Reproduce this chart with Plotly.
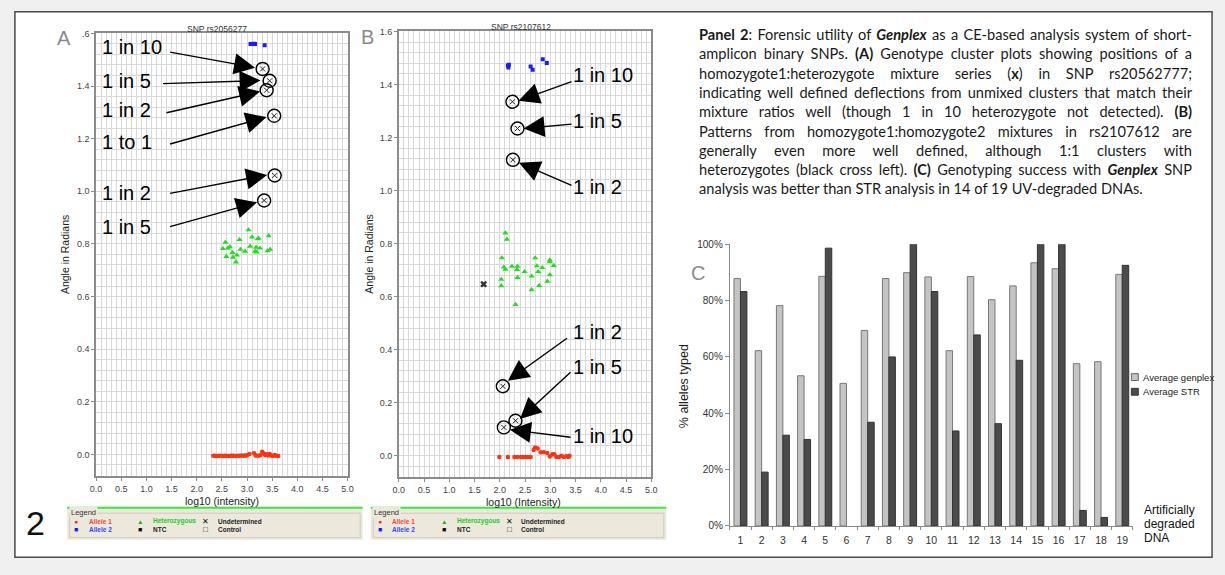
import json
import plotly.graph_objects as go

W, H = 1225, 575

# ---------------- Panel A : SNP rs2056277 ----------------
a_allele1_x = [2.33, 2.36, 2.40, 2.44, 2.48, 2.52, 2.55, 2.59, 2.63, 2.67, 2.71, 2.74, 2.78, 2.82,
               2.86, 2.90, 2.94, 2.97, 3.00, 3.05, 3.14, 3.17, 3.22, 3.26, 3.30, 3.33, 3.36, 3.39,
               3.42, 3.45, 3.48, 3.52, 3.55, 3.58, 3.62]
a_allele1_y = [-0.005, -0.005, -0.006, -0.005, -0.005, -0.006, -0.005, -0.005, -0.006, -0.005,
               -0.005, -0.005, -0.006, -0.005, -0.005, -0.004, -0.005, -0.004, -0.003, 0.002,
               0.004, -0.004, -0.005, -0.003, 0.010, 0.003, -0.002, 0.001, -0.004, 0.002,
               -0.004, -0.005, -0.002, -0.005, -0.006]
a_allele2_x = [3.07, 3.10, 3.13, 3.16, 3.35]
a_allele2_y = [1.560, 1.560, 1.561, 1.560, 1.555]
a_het_x = [3.03, 2.57, 2.85, 3.10, 3.21, 3.23, 3.43, 2.52, 2.62, 2.66, 2.87, 2.96, 3.06, 3.18,
           3.26, 3.16, 3.19, 3.41, 3.46, 2.71, 2.59, 2.80, 2.72, 2.78]
a_het_y = [0.853, 0.806, 0.816, 0.826, 0.819, 0.821, 0.831, 0.782, 0.784, 0.789, 0.779, 0.772,
           0.791, 0.787, 0.784, 0.772, 0.769, 0.774, 0.779, 0.767, 0.752, 0.757, 0.749, 0.731]
a_mix_x = [3.31, 3.45, 3.39, 3.54, 3.55, 3.34]
a_mix_y = [1.465, 1.420, 1.384, 1.287, 1.060, 0.965]
a_mix_labels = ["1 in 10", "1 in 5", "1 in 2", "1 to 1", "1 in 2", "1 in 5"]

# ---------------- Panel B : SNP rs2107612 ----------------
b_allele1_x = [1.99, 2.16, 2.29, 2.35, 2.42, 2.46, 2.50, 2.54, 2.58, 2.61, 2.67, 2.70, 2.75,
               2.81, 2.87, 2.94, 2.99, 3.04, 3.08, 3.12, 3.17, 3.22, 3.27, 3.32, 3.36, 3.38]
b_allele1_y = [-0.005, -0.005, -0.005, -0.005, -0.005, -0.005, -0.005, -0.005, -0.005, -0.005,
               0.022, 0.031, 0.027, 0.013, 0.013, 0.010, -0.003, 0.006, 0.006, -0.005, -0.005,
               0.000, -0.005, -0.002, -0.005, 0.000]
b_allele2_x = [2.16, 2.18, 2.17, 2.61, 2.65, 2.85, 2.93]
b_allele2_y = [1.472, 1.474, 1.464, 1.468, 1.456, 1.495, 1.481]
b_het_x = [2.11, 2.14, 2.04, 2.70, 2.08, 2.11, 2.24, 2.35, 2.34, 2.49, 2.73, 2.76, 2.84, 2.99,
           2.99, 3.07, 2.03, 2.35, 2.63, 2.99, 2.94, 2.78, 2.03, 2.63, 2.31]
b_het_y = [0.840, 0.816, 0.746, 0.746, 0.711, 0.703, 0.714, 0.714, 0.702, 0.694, 0.716, 0.694,
           0.709, 0.738, 0.731, 0.717, 0.665, 0.672, 0.677, 0.682, 0.658, 0.642, 0.641, 0.626,
           0.570]
b_undet_x = [1.68]
b_undet_y = [0.647]
b_mix_x = [2.25, 2.35, 2.26, 2.06, 2.31, 2.08]
b_mix_y = [1.335, 1.234, 1.116, 0.262, 0.132, 0.107]
b_mix_labels = ["1 in 10", "1 in 5", "1 in 2", "1 in 2", "1 in 5", "1 in 10"]

# ---------------- Panel C : genotyping success ----------------
samples = [str(i) for i in range(1, 20)]
genplex_pct = [87.8, 62.2, 78.2, 53.3, 88.6, 50.6, 69.4, 87.8, 89.9, 88.4, 62.2, 88.5, 80.3,
               85.2, 93.4, 91.3, 57.6, 58.3, 89.3]
str_pct = [83.2, 19.1, 32.2, 30.7, 98.6, 0.0, 36.8, 60.0, 100.0, 83.2, 33.7, 67.8, 36.3,
           58.8, 100.0, 100.0, 5.5, 3.0, 92.5]
y_ticks_c = [0, 20, 40, 60, 80, 100]

# colours
RED, BLUE, GREEN = "#ff3311", "#1a1aff", "#22dd22"
ARIAL = "Liberation Sans"


def px(x):
    return x / W


def py(y):
    return 1 - y / H


fig = go.Figure()


def cluster_traces(xa, ya, a1x, a1y, a2x, a2y, hx, hy, mx, my):
    fig.add_trace(go.Scatter(x=a1x, y=a1y, mode="markers", xaxis=xa, yaxis=ya,
                             marker=dict(symbol="circle", size=4.5, color=RED)))
    fig.add_trace(go.Scatter(x=a2x, y=a2y, mode="markers", xaxis=xa, yaxis=ya,
                             marker=dict(symbol="square", size=4, color=BLUE)))
    fig.add_trace(go.Scatter(x=hx, y=hy, mode="markers", xaxis=xa, yaxis=ya,
                             marker=dict(symbol="triangle-up", size=5.5, color=GREEN)))
    fig.add_trace(go.Scatter(x=mx, y=my, mode="markers", xaxis=xa, yaxis=ya,
                             marker=dict(symbol="circle-open", size=13, color="black",
                                         line=dict(color="black", width=1.4))))
    fig.add_trace(go.Scatter(x=mx, y=my, mode="markers", xaxis=xa, yaxis=ya,
                             marker=dict(symbol="x-thin-open", size=5, color="#222",
                                         line=dict(color="#222", width=1))))


cluster_traces("x", "y", a_allele1_x, a_allele1_y, a_allele2_x, a_allele2_y,
               a_het_x, a_het_y, a_mix_x, a_mix_y)
cluster_traces("x2", "y2", b_allele1_x, b_allele1_y, b_allele2_x, b_allele2_y,
               b_het_x, b_het_y, b_mix_x, b_mix_y)
fig.add_trace(go.Scatter(x=b_undet_x, y=b_undet_y, mode="markers", xaxis="x2", yaxis="y2",
                         marker=dict(symbol="x", size=6, color="#333")))

fig.add_trace(go.Bar(x=samples, y=genplex_pct, xaxis="x3", yaxis="y3", name="Average genplex",
                     marker=dict(color="#c4c4c4", line=dict(color="#777", width=1))))
# bars with no height get no outline
str_outline = [1 if v > 0 else 0 for v in str_pct]
fig.add_trace(go.Bar(x=samples, y=str_pct, xaxis="x3", yaxis="y3", name="Average STR",
                     marker=dict(color="#4b4b4b", line=dict(color="#333", width=str_outline))))

# ---------------- axes ----------------
grid = "#d9d9d9"
frame = "#8c8c8c"
y_vals = [0, 0.2, 0.4, 0.6, 0.8, 1.0, 1.2, 1.4, 1.6]
y_text_a = ["0.0", "0.2", "0.4", "0.6", "0.8", "1.0", "1.2", "1.4", ".6"]
y_text_b = ["0.0", "0.2", "0.4", "0.6", "0.8", "1.0", "1.2", "1.4", "1.6"]


def scatter_xaxis(dom):
    return dict(domain=dom, range=[0, 5], tick0=0, dtick=0.5, tickformat=".1f",
                showgrid=True, gridcolor=grid, zeroline=False,
                minor=dict(dtick=0.1, showgrid=True, gridcolor=grid, ticks=""),
                showline=True, linecolor=frame, linewidth=1.5, mirror=True,
                ticks="outside", ticklen=3, tickcolor=frame,
                tickfont=dict(size=9, color="#444", family=ARIAL))


def scatter_yaxis(dom, rng, anchor, ticktext):
    return dict(domain=dom, range=rng, anchor=anchor, tickvals=y_vals, ticktext=ticktext,
                showgrid=True, gridcolor=grid, zeroline=False,
                minor=dict(tick0=0, dtick=0.04, showgrid=True, gridcolor=grid, ticks=""),
                showline=True, linecolor=frame, linewidth=1.5, mirror=True,
                ticks="outside", ticklen=3, tickcolor=frame,
                tickfont=dict(size=9, color="#444", family=ARIAL))


layout = dict(
    width=W, height=H, margin=dict(l=0, r=0, t=0, b=0),
    paper_bgcolor="#eff0ef", plot_bgcolor="white", showlegend=False,
    barmode="group", bargap=0.39, bargroupgap=0.0,
    font=dict(family=ARIAL, color="#222"),
    xaxis=dict(scatter_xaxis([px(91), px(345)]), anchor="y"),
    yaxis=scatter_yaxis([py(480), py(28)], [-0.082, 1.6], "x", y_text_a),
    xaxis2=dict(scatter_xaxis([px(396.7), px(651.7)]), anchor="y2"),
    yaxis2=scatter_yaxis([py(481), py(26)], [-0.080, 1.6], "x2", y_text_b),
    xaxis3=dict(domain=[px(731), px(1138)], anchor="y3", type="category",
                showline=True, linecolor="#8a8a8a", linewidth=1, ticks="outside",
                tickson="boundaries", ticklen=3, tickcolor="#8a8a8a", ticklabelstandoff=4,
                tickfont=dict(size=10.5, color="#333", family=ARIAL)),
    yaxis3=dict(domain=[py(531), py(243.3)], anchor="x3", range=[0, 100],
                tickvals=y_ticks_c, ticktext=[f"{v}%" for v in y_ticks_c],
                showgrid=False, zeroline=False, showline=True, linecolor="#8a8a8a",
                linewidth=1, ticks="outside", ticklen=4, tickcolor="#8a8a8a",
                tickfont=dict(size=10, color="#333", family=ARIAL)),
)
fig.update_layout(**layout)

# ---------------- shapes ----------------
shapes = [
    dict(type="rect", xref="paper", yref="paper", x0=px(9), x1=px(1218), y0=py(563), y1=py(6),
         fillcolor="white", line=dict(color="#4a4a4a", width=1.5), layer="below"),
]
for x0 in (61.7, 368.3):
    shapes.append(dict(type="rect", xref="paper", yref="paper", x0=px(x0), x1=px(x0 + 298.5),
                       y0=py(545), y1=py(512), fillcolor="#ece9dc", line=dict(width=0),
                       layer="below"))
    shapes.append(dict(type="rect", xref="paper", yref="paper", x0=px(x0 + 2.5), x1=px(x0 + 296),
                       y0=py(543), y1=py(518), fillcolor="rgba(0,0,0,0)",
                       line=dict(color="#cfcbbd", width=1), layer="below"))
    shapes.append(dict(type="line", xref="paper", yref="paper", x0=px(x0), x1=px(x0 + 298.5),
                       y0=py(512.5), y1=py(512.5), line=dict(color="#33ee33", width=2)))
# panel C legend swatches
shapes.append(dict(type="rect", xref="paper", yref="paper", x0=px(1136.5), x1=px(1143.5),
                   y0=py(382.5), y1=py(375.5), fillcolor="#c4c4c4", line=dict(color="#666", width=1)))
shapes.append(dict(type="rect", xref="paper", yref="paper", x0=px(1136.5), x1=px(1143.5),
                   y0=py(397.5), y1=py(390.5), fillcolor="#4b4b4b", line=dict(color="#333", width=1)))
fig.update_layout(shapes=shapes)

# ---------------- annotations ----------------
ann = []


def text(x, y, s, size, color="#222", family=ARIAL, xanchor="center", yanchor="middle",
         angle=0, bg=None, align="center"):
    d = dict(xref="paper", yref="paper", x=px(x), y=py(y), text=s, showarrow=False,
             xanchor=xanchor, yanchor=yanchor, textangle=angle, align=align,
             font=dict(size=size, color=color, family=family))
    if bg:
        d["bgcolor"] = bg
    ann.append(d)
    return len(ann) - 1


def arrow_label(xr, yr, label, lx, ly, tail, head):
    ann.append(dict(xref=xr, yref=yr, x=lx, y=ly, text=label, showarrow=False,
                    xanchor="left", yanchor="middle",
                    font=dict(size=20, color="black", family=ARIAL)))
    ann.append(dict(xref=xr, yref=yr, axref=xr, ayref=yr, x=head[0], y=head[1],
                    ax=tail[0], ay=tail[1], text="", showarrow=True, arrowhead=2,
                    arrowsize=3.0, arrowwidth=1.4, arrowcolor="black", standoff=0))


# panel A labels and arrows
a_label_y = [1.548, 1.420, 1.310, 1.188, 0.994, 0.863]
a_tails = [(1.44, 1.530), (1.30, 1.409), (1.37, 1.297), (1.44, 1.178), (1.44, 0.991), (1.44, 0.864)]
a_heads = [(3.16, 1.470), (3.27, 1.421), (3.26, 1.379), (3.39, 1.282), (3.40, 1.062), (3.20, 0.958)]
for lab, ly, t, h in zip(a_mix_labels, a_label_y, a_tails, a_heads):
    arrow_label("x", "y", lab, 0.08, ly, t, h)

# panel B labels and arrows
b_label_y = [1.435, 1.262, 1.014, 0.466, 0.336, 0.074]
b_tails = [(3.45, 1.413), (3.45, 1.251), (3.45, 1.017), (3.36, 0.447), (3.43, 0.320), (3.43, 0.069)]
b_heads = [(2.37, 1.339), (2.47, 1.234), (2.38, 1.105), (2.16, 0.283), (2.40, 0.139), (2.20, 0.098)]
for lab, ly, t, h in zip(b_mix_labels, b_label_y, b_tails, b_heads):
    arrow_label("x2", "y2", lab, 3.41, ly, t, h)

# titles and axis labels of the cluster plots
text(213, 23, "SNP rs2056277", 8.5, "#333")
text(520, 21.5, "SNP rs2107612", 8.5, "#333")
text(218, 506, "log10 (intensity)", 10.5, "#222")
text(523, 507, "log10 (Intensity)", 10.5, "#222")
text(59, 254, "Angle in Radians", 10.5, "#222", angle=-90)
text(366.5, 253, "Angle in Radians", 10.5, "#222", angle=-90)

# panel letters
text(59, 33, "A", 20, "#8a8a8a")
text(365, 32, "B", 20, "#8a8a8a")
text(699, 273, "C", 20, "#8a8a8a")
text(30, 528, "2", 34, "#111")

# cluster-plot legends
for off in (0.0, 306.6):
    text(63.5 + off, 517.5, "Legend", 7.5, "#333", xanchor="left", bg="#ece9dc")
    text(70.7 + off, 526, "●", 7, RED)
    text(81.7 + off, 526, "<b>Allele 1</b>", 6.5, "#ff4433", xanchor="left")
    text(70.7 + off, 534.5, "■", 7, BLUE)
    text(81.7 + off, 534.5, "<b>Allele 2</b>", 6.5, "#3344ff", xanchor="left")
    text(135.7 + off, 526, "▲", 6.5, "#11bb11")
    text(146.7 + off, 526, "<b>Heterozygous</b>", 6.5, "#22cc22", xanchor="left")
    text(135.7 + off, 534.5, "■", 7, "#111")
    text(146.7 + off, 534.5, "<b>NTC</b>", 6.5, "#222", xanchor="left")
    text(201.7 + off, 526, "✕", 8, "#111")
    text(211.7 + off, 526, "<b>Undetermined</b>", 6.5, "#222", xanchor="left")
    text(201.7 + off, 534.5, "□", 8, "#111")
    text(211.7 + off, 534.5, "<b>Control</b>", 6.5, "#222", xanchor="left")

# panel C extra text
text(685, 388, "% alleles typed", 12.5, "#222", angle=-90)
text(1146.5, 379, "Average genplex", 9.5, "#222", xanchor="left")
text(1146.5, 394, "Average STR", 9.5, "#222", xanchor="left")
text(1147, 515, "Artificially", 12, "#111", xanchor="left")
text(1147, 529, "degraded", 12, "#111", xanchor="left")
text(1147, 543.5, "DNA", 12, "#111", xanchor="left")

# caption paragraph
caption = [
    "<b>Panel 2</b>: Forensic utility of <b><i>Genplex</i></b> as a CE-based analysis system of short-",
    "amplicon binary SNPs. <b>(A)</b> Genotype cluster plots showing positions of a",
    "homozygote1:heterozygote mixture series (<b>x</b>) in SNP rs20562777;",
    "indicating well defined deflections from unmixed clusters that match their",
    "mixture ratios well (though 1 in 10 heterozygote not detected). <b>(B)</b>",
    "Patterns from homozygote1:homozygote2 mixtures in rs2107612 are",
    "generally even more well defined, although 1:1 clusters with",
    "heterozygotes (black cross left). <b>(C)</b> Genotyping success with <b><i>Genplex</i></b> SNP",
    "analysis was better than STR analysis in 14 of 19 UV-degraded DNAs.",
]
justified = []
for i, line in enumerate(caption):
    idx = text(697.5, 29.3 + 19.68 * i, line, 14.6, "#1a1a1a", family="Lato",
               xanchor="left", align="left")
    if i < len(caption) - 1:
        justified.append([idx, 493.0])

fig.update_layout(annotations=ann)

# set word spacing so every caption line except the last spans the full column width
post = """
var gd = document.getElementById('{plot_id}');
var J = """ + json.dumps(justified) + """;
J.forEach(function(item){
  var t = gd.querySelector('.annotation[data-index="' + item[0] + '"] text.annotation-text');
  if(!t) return;
  t.style.wordSpacing = '0px';
  var w = t.getComputedTextLength();
  var n = (t.textContent.match(/ /g) || []).length;
  if(n > 0) t.style.wordSpacing = ((item[1] - w) / n) + 'px';
});
"""
fig.write_html("out.html", post_script=post, config=dict(displayModeBar=False))
